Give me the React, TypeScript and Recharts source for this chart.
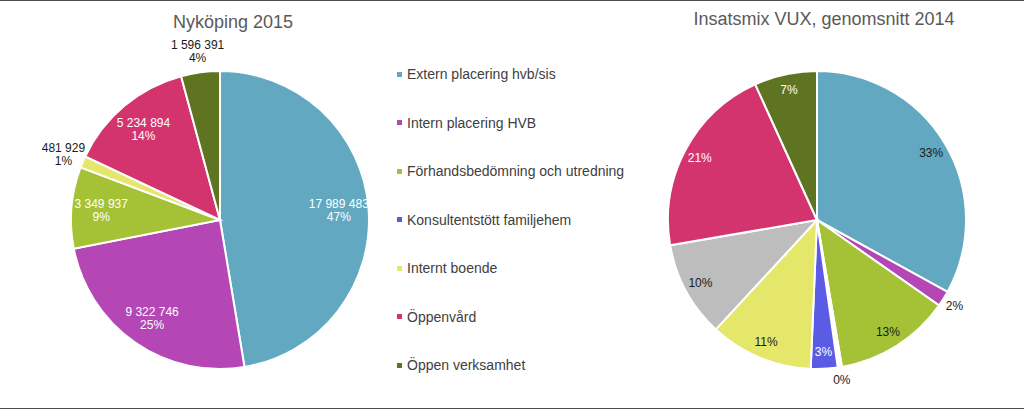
import { PieChart, Pie, Cell } from 'recharts'

const categories = [
  'Extern placering hvb/sis',
  'Intern placering HVB',
  'Förhandsbedömning och utredning',
  'Konsultentstött familjehem',
  'Internt boende',
  'Öppenvård',
  'Öppen verksamhet',
]
const categoryColors = ['#62a8c0', '#b446b5', '#a5c236', '#5b5ce6', '#e5e76b', '#d3346e', '#5e7420']

// Nyköping 2015, kronor per insats (same order as categories)
const nykoping2015 = [17989483, 9322746, 3349937, 0, 481929, 5234894, 1596391]

// Insatsmix VUX 2014, andel i procent
const vuxCategories = [
  'Extern placering hvb/sis',
  'Intern placering HVB',
  'Förhandsbedömning och utredning',
  'Övrigt',
  'Konsultentstött familjehem',
  'Internt boende',
  'Annat',
  'Öppenvård',
  'Öppen verksamhet',
]
const vuxShares2014 = [33, 1.7, 12.6, 0.45, 2.9, 11.2, 10.4, 20.9, 6.8]
const vuxColors = ['#62a8c0', '#b446b5', '#a5c236', '#ffffff', '#5b5ce6', '#e5e76b', '#bdbdbd', '#d3346e', '#5e7420']
const vuxLabelColors = ['#1a1a1a', '#1a1a1a', '#1a1a1a', '#1a1a1a', '#ffffff', '#1a1a1a', '#1a1a1a', '#ffffff', '#ffffff']

const leftData = categories
  .map((name, i) => ({ name, value: nykoping2015[i], fill: categoryColors[i] }))
  .filter((d) => d.value > 0)

const rightData = vuxCategories.map((name, i) => ({ name, value: vuxShares2014[i], fill: vuxColors[i], labelColor: vuxLabelColors[i] }))

const RAD = Math.PI / 180
const fmt = (v: number) => String(v).replace(/\B(?=(\d{3})+(?!\d))/g, ' ')

function leftLabel(props: any) {
  const { cx, cy, midAngle, outerRadius, percent, value } = props
  const outside = percent < 0.05
  const r = outside ? outerRadius + 21 : outerRadius * 0.8
  const x = cx + r * Math.cos(-midAngle * RAD)
  const y = cy + r * Math.sin(-midAngle * RAD)
  return (
    <text x={x} y={y} textAnchor="middle" fontSize={12} fill={outside ? '#1a1a1a' : '#ffffff'}>
      <tspan x={x} dy={-2}>{fmt(value)}</tspan>
      <tspan x={x} dy={13}>{Math.round(percent * 100)}%</tspan>
    </text>
  )
}

function rightLabel(props: any) {
  const { cx, cy, midAngle, outerRadius, percent, index } = props
  const outside = percent < 0.025
  const r = outside ? outerRadius + 13 : outerRadius * 0.89
  const x = cx + r * Math.cos(-midAngle * RAD)
  const y = cy + r * Math.sin(-midAngle * RAD)
  return (
    <text x={x} y={y + 4} textAnchor="middle" fontSize={12} fill={outside ? '#1a1a1a' : rightData[index].labelColor}>
      {Math.round(percent * 100)}%
    </text>
  )
}

export default function App() {
  return (
    <div
      style={{
        position: 'absolute',
        left: 0,
        top: 0,
        width: 1024,
        height: 409,
        background: '#fff',
        fontFamily: '"Liberation Sans", Arial, sans-serif',
      }}
    >
      <div style={{ position: 'absolute', left: 0, top: 0, width: 1024, height: 1, background: '#4f4f4f' }} />
      <div style={{ position: 'absolute', left: 0, top: 408, width: 1024, height: 1, background: '#4f4f4f' }} />
      <div style={{ position: 'absolute', left: 133, width: 200, top: 12, textAlign: 'center', fontSize: 18, color: '#595959' }}>
        Nyköping 2015
      </div>
      <div style={{ position: 'absolute', left: 674, width: 300, top: 9, textAlign: 'center', fontSize: 18, color: '#595959' }}>
        Insatsmix VUX, genomsnitt 2014
      </div>
      <div style={{ position: 'absolute', left: 0, top: 0 }}>
        <PieChart width={1024} height={409} margin={{ top: 0, right: 0, bottom: 0, left: 0 }}>
          <Pie
            data={leftData}
            dataKey="value"
            nameKey="name"
            cx={220}
            cy={220}
            outerRadius={149}
            startAngle={90}
            endAngle={-270}
            stroke="#ffffff"
            strokeWidth={2}
            label={leftLabel}
            labelLine={false}
            isAnimationActive={false}
          >
            {leftData.map((d) => (
              <Cell key={d.name} fill={d.fill} />
            ))}
          </Pie>
          <Pie
            data={rightData}
            dataKey="value"
            nameKey="name"
            cx={817}
            cy={220}
            outerRadius={149}
            startAngle={90}
            endAngle={-270}
            stroke="#ffffff"
            strokeWidth={2}
            label={rightLabel}
            labelLine={false}
            isAnimationActive={false}
          >
            {rightData.map((d) => (
              <Cell key={d.name} fill={d.fill} />
            ))}
          </Pie>
        </PieChart>
      </div>
      <div style={{ position: 'absolute', left: 397, top: 50 }}>
        {categories.map((c, i) => (
          <div key={c} style={{ height: 48.5, display: 'flex', alignItems: 'center', fontSize: 14, color: '#404040' }}>
            <span style={{ width: 5, height: 5, background: categoryColors[i], marginRight: 5, display: 'inline-block' }} />
            {c}
          </div>
        ))}
      </div>
    </div>
  )
}
